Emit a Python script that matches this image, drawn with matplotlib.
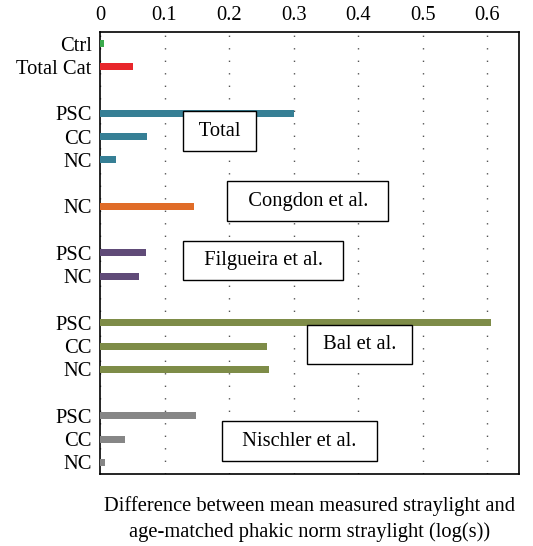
import numpy as np
import matplotlib
matplotlib.use("Agg")
import matplotlib.pyplot as plt

plt.rcParams['font.family'] = ['Liberation Serif', 'DejaVu Serif']
plt.rcParams['font.size'] = 14.8

# categories (top to bottom), blank string = gap row
labels = ["Ctrl", "Total Cat", "", "PSC", "CC", "NC", "", "NC", "",
          "PSC", "NC", "", "PSC", "CC", "NC", "", "PSC", "CC", "NC"]
# values (None = gap)
values = [0.006, 0.051, None, 0.301, 0.073, 0.025, None, 0.146, None,
          0.071, 0.061, None, 0.605, 0.258, 0.262, None, 0.148, 0.039, 0.007]
groups = ["ctrl", "cat", None, "total", "total", "total", None, "congdon", None,
          "filgueira", "filgueira", None, "bal", "bal", "bal", None,
          "nischler", "nischler", "nischler"]

colors = {"ctrl": "#3aaa4c", "cat": "#e8262b", "total": "#367f95",
          "congdon": "#e06c28", "filgueira": "#604b78", "bal": "#7e8c48",
          "nischler": "#868686"}

# group boxes: text, x centre, y centre (row units)
box_texts = [" Total ", "  Congdon et al.  ", "  Filgueira et al.  ",
             " Bal et al. ", "  Nischler et al.  "]
box_x = [0.185, 0.322, 0.253, 0.402, 0.309]
box_y = [3.76, 6.77, 9.32, 12.93, 17.09]

fig = plt.figure(figsize=(5.33, 5.46), dpi=100)
ax = fig.add_axes([0.1876, 0.1319, 0.7861, 0.8095])

pos = np.arange(len(labels))
for p, v, g in zip(pos, values, groups):
    if v is None:
        continue
    ax.barh(p, v, height=0.3, color=colors[g], zorder=3)

for t, x, y in zip(box_texts, box_x, box_y):
    ax.text(x, y, t, ha='center', va='center', zorder=4,
            bbox=dict(boxstyle='square,pad=0.5', fc='white', ec='black', lw=1))

ax.set_xlim(0, 0.649)
ax.set_ylim(len(labels) - 0.5, -0.5)
ax.set_xticks(np.arange(0, 0.61, 0.1))
ax.set_xticklabels(["0", "0.1", "0.2", "0.3", "0.4", "0.5", "0.6"])
ax.set_yticks(pos)
ax.set_yticklabels(labels)
ax.xaxis.tick_top()
ax.xaxis.set_label_position('bottom')
ax.tick_params(axis='y', length=0, pad=6)
ax.tick_params(axis='x', length=0, pad=5)
ax.grid(axis='x', color='#555555', linestyle=(0, (1, 8)), lw=1, zorder=0)
for s in ax.spines.values():
    s.set_linewidth(1.2)

ax.set_xlabel("Difference between mean measured straylight and\n"
              "age-matched phakic norm straylight (log(s))", labelpad=16,
              linespacing=1.45)

fig.savefig("out.png", dpi=100)
